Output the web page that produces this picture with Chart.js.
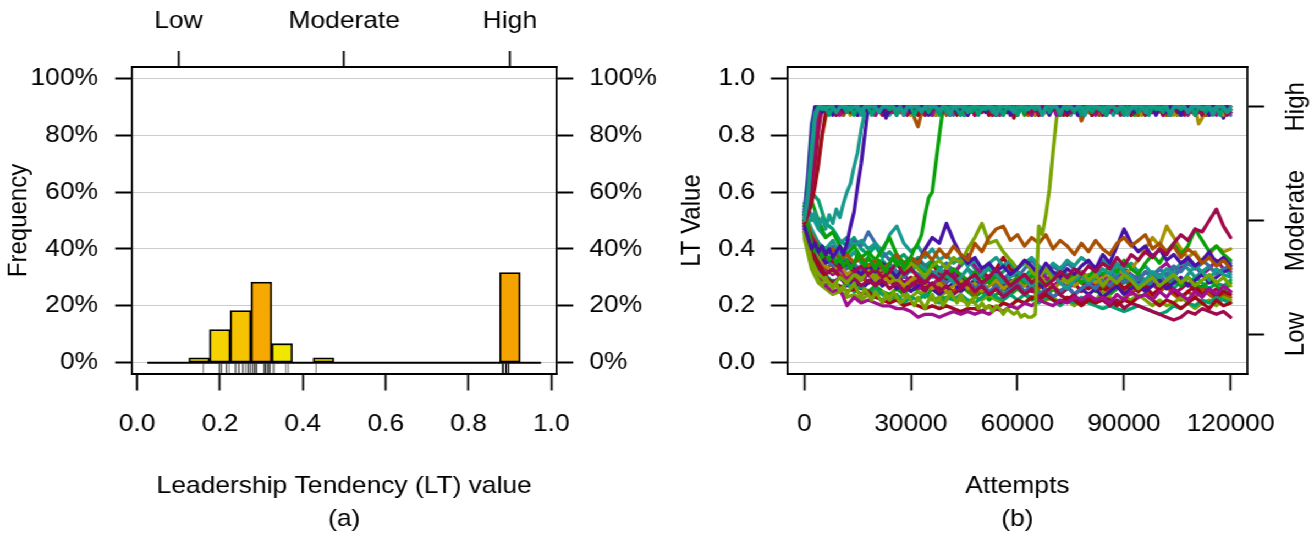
<!DOCTYPE html>
<html><head><meta charset="utf-8">
<script src="https://cdn.jsdelivr.net/npm/chart.js@4.4.1/dist/chart.umd.min.js"></script>
<style>
html,body{margin:0;padding:0;background:#fff;overflow:hidden;}
#wrap{position:absolute;left:0;top:0;width:1192px;height:535px;transform:scaleX(1.1);transform-origin:0 0;}
#c1{position:absolute;left:0;top:0;}
#c2{position:absolute;left:600px;top:0;}
</style></head><body>
<div id="wrap"><canvas id="c1" width="600" height="535"></canvas><canvas id="c2" width="592" height="535"></canvas></div>
<script>
// ---------------- DATA: panel (a) ----------------
const binCenters = [0.05,0.10,0.15,0.20,0.25,0.30,0.35,0.40,0.45,0.50,0.55,0.60,0.65,0.70,0.75,0.80,0.85,0.90,0.95];
const binWidth = 0.05;
const freqPct = [0,0,1.67,11.67,18.33,28.33,6.67,0,1.67,0,0,0,0,0,0,0,0,31.67,0];
const rugValues = [0.160,
  0.198,0.199,0.203,0.204,0.215,0.216,0.222,
  0.237,0.238,0.245,0.246,0.255,0.256,0.262,0.267,0.268,0.272,0.273,
  0.278,0.279,0.283,0.284,0.285,0.288,0.289,0.306,0.307,0.309,0.310,0.311,0.315,0.316,0.318,0.320,0.321,
  0.328,0.331,0.359,0.365,
  0.432,
  0.883,0.883,0.883,0.883,0.883,0.883,
  0.891,0.891,0.891,0.891,0.891,0.891,0.891,
  0.897,0.897,0.897,0.897,0.897,0.897];
const histXTicks = [0,0.2,0.4,0.6,0.8,1.0];
const histXTickLabels = ['0.0','0.2','0.4','0.6','0.8','1.0'];
const histYTicks = [0,20,40,60,80,100];
const histYTickLabels = ['0%','20%','40%','60%','80%','100%'];
const levelTicks = [0.1,0.5,0.9];
const levelLabels = ['Low','Moderate','High'];

// ---------------- DATA: panel (b) ----------------
const ltTicks = [0,0.2,0.4,0.6,0.8,1.0];
const ltTickLabels = ['0.0','0.2','0.4','0.6','0.8','1.0'];
const attemptTicks = [0,30000,60000,90000,120000];
const attemptTickLabels = ['0','30000','60000','90000','120000'];

const lowAttempts = [0,2000,4000,6000,8000,10000,12000,14000,16000,18000,
  20000,22000,24000,26000,28000,30000,32000,34000,36000,38000,
  40000,42000,44000,46000,48000,50000,52000,54000,56000,58000,
  60000,62000,64000,66000,68000,70000,72000,74000,76000,78000,
  80000,82000,84000,86000,88000,90000,92000,94000,96000,98000,
  100000,102000,104000,106000,108000,110000,112000,114000,116000,118000,120000];

const highAttempts = [0,1000,2000,3000,4000,5000,6000,7000,8000,9000,
  10000,11000,12000,13000,14000,15000,16000,17000,18000,19000,
  20000,21000,22000,23000,24000,25000,26000,27000,28000,29000,
  30000,31000,32000,33000,34000,35000,36000,37000,38000,39000,
  40000,41000,42000,43000,44000,45000,46000,47000,48000,49000,
  50000,51000,52000,53000,54000,55000,56000,57000,58000,59000,
  60000,61000,62000,63000,64000,65000,66000,67000,68000,69000,
  70000,71000,72000,73000,74000,75000,76000,77000,78000,79000,
  80000,81000,82000,83000,84000,85000,86000,87000,88000,89000,
  90000,91000,92000,93000,94000,95000,96000,97000,98000,99000,
  100000,101000,102000,103000,104000,105000,106000,107000,108000,109000,
  110000,111000,112000,113000,114000,115000,116000,117000,118000,119000,120000];

// agents that stay at low LT (sampled every 2000 attempts)
const low01 = [0.50,0.44,0.40,0.37,0.36,0.33,0.35,0.32,0.34,0.31, 0.33,0.30,0.32,0.35,0.31,0.33,0.30,0.28,0.31,0.29, 0.32,0.30,0.27,0.29,0.31,0.28,0.30,0.33,0.30,0.27, 0.29,0.31,0.28,0.30,0.27,0.29,0.32,0.30,0.33,0.31, 0.34,0.32,0.35,0.33,0.37,0.34,0.38,0.36,0.39,0.37, 0.40,0.38,0.42,0.45,0.43,0.47,0.46,0.50,0.54,0.48,0.44];
const low02 = [0.52,0.45,0.41,0.38,0.40,0.36,0.38,0.35,0.37,0.34, 0.36,0.33,0.35,0.38,0.34,0.37,0.35,0.39,0.36,0.40, 0.37,0.41,0.38,0.36,0.42,0.39,0.44,0.47,0.48,0.43, 0.45,0.41,0.44,0.42,0.45,0.40,0.43,0.41,0.38,0.42, 0.39,0.43,0.40,0.38,0.42,0.44,0.41,0.43,0.45,0.40, 0.42,0.39,0.41,0.37,0.40,0.38,0.35,0.37,0.34,0.36,0.33];
const low03 = [0.48,0.42,0.39,0.35,0.37,0.34,0.36,0.33,0.31,0.34, 0.32,0.35,0.33,0.30,0.34,0.37,0.35,0.40,0.44,0.42, 0.49,0.43,0.38,0.35,0.37,0.33,0.35,0.32,0.34,0.31, 0.33,0.36,0.34,0.31,0.35,0.32,0.30,0.33,0.31,0.34, 0.36,0.33,0.38,0.35,0.41,0.47,0.42,0.39,0.41,0.37, 0.40,0.36,0.38,0.35,0.37,0.34,0.36,0.39,0.35,0.37,0.34];
const low04 = [0.46,0.36,0.31,0.29,0.27,0.30,0.28,0.31,0.29,0.33, 0.30,0.34,0.31,0.29,0.32,0.35,0.33,0.30,0.34,0.36, 0.33,0.37,0.35,0.40,0.44,0.49,0.42,0.43,0.39,0.36, 0.33,0.36,0.32,0.30,0.33,0.29,0.31,0.28,0.30,0.32, 0.29,0.31,0.27,0.30,0.28,0.31,0.29,0.26,0.28,0.30, 0.27,0.29,0.31,0.28,0.30,0.27,0.29,0.31,0.28,0.30,0.27];
const low05 = [0.47,0.36,0.30,0.27,0.25,0.26,0.20,0.23,0.21,0.22, 0.21,0.20,0.20,0.19,0.19,0.18,0.16,0.17,0.17,0.16, 0.17,0.18,0.17,0.18,0.17,0.18,0.17,0.19,0.18,0.20, 0.19,0.21,0.20,0.22,0.21,0.20,0.22,0.21,0.23,0.22, 0.24,0.22,0.23,0.21,0.24,0.22,0.25,0.23,0.24,0.22, 0.25,0.23,0.26,0.24,0.22,0.25,0.23,0.26,0.24,0.27,0.25];
const low06 = [0.49,0.40,0.34,0.30,0.28,0.27,0.25,0.26,0.24,0.25, 0.23,0.22,0.21,0.22,0.20,0.21,0.20,0.19,0.20,0.19, 0.20,0.19,0.18,0.19,0.19,0.18,0.20,0.19,0.21,0.20, 0.22,0.21,0.23,0.22,0.24,0.22,0.21,0.23,0.22,0.20, 0.22,0.21,0.23,0.22,0.20,0.22,0.21,0.23,0.24,0.22, 0.20,0.22,0.21,0.19,0.21,0.23,0.21,0.19,0.22,0.20,0.21];
const low07 = [0.47,0.39,0.35,0.31,0.33,0.30,0.28,0.30,0.27,0.29, 0.27,0.29,0.26,0.28,0.25,0.27,0.29,0.26,0.28,0.25, 0.27,0.24,0.26,0.28,0.25,0.27,0.24,0.26,0.23,0.25, 0.27,0.24,0.26,0.23,0.25,0.27,0.24,0.22,0.24,0.21, 0.23,0.21,0.22,0.20,0.22,0.19,0.21,0.20,0.19,0.18, 0.17,0.16,0.15,0.16,0.18,0.17,0.19,0.18,0.17,0.18,0.16];
const low08 = [0.53,0.47,0.42,0.40,0.43,0.38,0.36,0.39,0.35,0.37, 0.34,0.36,0.33,0.31,0.34,0.32,0.35,0.33,0.30,0.33, 0.31,0.28,0.30,0.33,0.29,0.31,0.34,0.31,0.28,0.30, 0.32,0.29,0.27,0.30,0.33,0.31,0.28,0.26,0.29,0.31, 0.28,0.30,0.33,0.31,0.35,0.32,0.30,0.27,0.29,0.32, 0.30,0.33,0.31,0.28,0.31,0.34,0.32,0.29,0.33,0.31,0.30];
const low09 = [0.55,0.57,0.50,0.44,0.46,0.41,0.38,0.41,0.37,0.39, 0.36,0.40,0.44,0.38,0.35,0.37,0.34,0.32,0.35,0.33, 0.30,0.33,0.31,0.29,0.32,0.30,0.28,0.31,0.29,0.27, 0.30,0.28,0.31,0.29,0.27,0.30,0.32,0.29,0.31,0.28, 0.30,0.33,0.31,0.34,0.32,0.36,0.33,0.31,0.35,0.38, 0.35,0.39,0.42,0.38,0.41,0.47,0.43,0.39,0.41,0.38,0.36];
const low10 = [0.51,0.43,0.39,0.36,0.34,0.37,0.33,0.35,0.32,0.34, 0.31,0.33,0.35,0.32,0.30,0.33,0.31,0.29,0.32,0.30, 0.28,0.30,0.27,0.29,0.26,0.28,0.25,0.27,0.24,0.26, 0.28,0.25,0.27,0.24,0.26,0.23,0.25,0.27,0.24,0.26, 0.28,0.26,0.29,0.27,0.30,0.28,0.31,0.29,0.32,0.30, 0.33,0.31,0.34,0.32,0.35,0.33,0.36,0.34,0.31,0.33,0.34];
const low11 = [0.50,0.41,0.35,0.31,0.28,0.26,0.28,0.25,0.27,0.24, 0.26,0.24,0.22,0.24,0.21,0.23,0.22,0.24,0.23,0.21, 0.23,0.22,0.24,0.22,0.21,0.23,0.25,0.23,0.22,0.24, 0.22,0.24,0.23,0.21,0.23,0.22,0.20,0.22,0.21,0.23, 0.21,0.20,0.19,0.20,0.19,0.18,0.19,0.20,0.19,0.18, 0.17,0.18,0.20,0.19,0.21,0.20,0.22,0.21,0.23,0.22,0.21];
const low12 = [0.49,0.41,0.37,0.34,0.32,0.35,0.31,0.33,0.30,0.32, 0.29,0.31,0.28,0.30,0.27,0.29,0.31,0.28,0.26,0.28, 0.25,0.27,0.29,0.26,0.28,0.25,0.27,0.29,0.26,0.28, 0.30,0.27,0.29,0.31,0.28,0.26,0.28,0.30,0.27,0.29, 0.31,0.28,0.30,0.32,0.34,0.31,0.33,0.36,0.40,0.44, 0.41,0.48,0.44,0.40,0.37,0.39,0.35,0.38,0.41,0.39,0.40];
const low13 = [0.46,0.38,0.33,0.30,0.28,0.30,0.27,0.29,0.26,0.28, 0.30,0.27,0.29,0.26,0.28,0.25,0.27,0.29,0.26,0.24, 0.26,0.28,0.25,0.27,0.29,0.26,0.24,0.26,0.28,0.25, 0.27,0.24,0.26,0.28,0.25,0.23,0.25,0.27,0.24,0.26, 0.24,0.26,0.23,0.25,0.27,0.24,0.26,0.28,0.25,0.27, 0.29,0.26,0.28,0.30,0.27,0.29,0.31,0.28,0.30,0.32,0.33];
const low14 = [0.44,0.33,0.28,0.26,0.24,0.25,0.23,0.24,0.22,0.24, 0.23,0.25,0.23,0.22,0.24,0.23,0.25,0.24,0.22,0.23, 0.25,0.23,0.22,0.21,0.23,0.22,0.24,0.22,0.21,0.20, 0.22,0.21,0.23,0.24,0.22,0.23,0.21,0.22,0.20,0.22, 0.24,0.22,0.25,0.23,0.21,0.23,0.22,0.24,0.22,0.20, 0.22,0.20,0.21,0.23,0.21,0.19,0.21,0.22,0.20,0.23,0.22];
const low15 = [0.56,0.52,0.47,0.44,0.46,0.42,0.44,0.41,0.43,0.40, 0.42,0.39,0.45,0.48,0.42,0.39,0.41,0.37,0.40,0.36, 0.38,0.35,0.37,0.34,0.36,0.33,0.35,0.37,0.34,0.36, 0.33,0.35,0.37,0.34,0.32,0.35,0.33,0.36,0.34,0.37, 0.35,0.33,0.36,0.34,0.31,0.33,0.35,0.32,0.34,0.31, 0.33,0.30,0.32,0.35,0.33,0.30,0.32,0.34,0.31,0.33,0.31];
const low16 = [0.50,0.42,0.37,0.34,0.31,0.33,0.30,0.32,0.29,0.31, 0.28,0.30,0.32,0.29,0.31,0.28,0.26,0.29,0.27,0.30, 0.33,0.30,0.35,0.38,0.34,0.31,0.29,0.32,0.30,0.28, 0.30,0.27,0.29,0.32,0.30,0.27,0.29,0.26,0.28,0.30, 0.27,0.29,0.31,0.28,0.30,0.33,0.31,0.29,0.32,0.30, 0.33,0.35,0.32,0.34,0.37,0.34,0.31,0.33,0.36,0.33,0.32];
const low17 = [0.52,0.44,0.40,0.37,0.35,0.33,0.36,0.33,0.30,0.32, 0.35,0.31,0.29,0.32,0.30,0.33,0.36,0.32,0.35,0.31, 0.29,0.32,0.30,0.27,0.29,0.32,0.30,0.33,0.37,0.33, 0.31,0.28,0.30,0.27,0.29,0.31,0.28,0.30,0.27,0.29, 0.26,0.28,0.25,0.27,0.29,0.26,0.28,0.25,0.27,0.24, 0.26,0.28,0.25,0.23,0.25,0.27,0.24,0.26,0.23,0.25,0.24];
const low18 = [0.48,0.40,0.36,0.33,0.35,0.31,0.29,0.32,0.30,0.28, 0.30,0.33,0.30,0.28,0.26,0.28,0.31,0.28,0.26,0.29, 0.27,0.25,0.28,0.26,0.24,0.27,0.29,0.26,0.24,0.26, 0.28,0.31,0.28,0.26,0.29,0.27,0.25,0.27,0.30,0.28, 0.26,0.29,0.27,0.25,0.28,0.26,0.24,0.27,0.25,0.23, 0.25,0.27,0.24,0.22,0.25,0.23,0.26,0.24,0.22,0.24,0.23];
const low19 = [0.54,0.46,0.42,0.39,0.41,0.38,0.40,0.43,0.41,0.46, 0.42,0.39,0.36,0.38,0.35,0.33,0.36,0.34,0.31,0.33, 0.35,0.32,0.30,0.33,0.31,0.28,0.30,0.27,0.29,0.32, 0.30,0.33,0.36,0.33,0.31,0.34,0.32,0.35,0.33,0.31, 0.29,0.31,0.28,0.30,0.33,0.31,0.28,0.30,0.27,0.29, 0.31,0.28,0.30,0.33,0.36,0.33,0.35,0.38,0.35,0.37,0.35];
const low20 = [0.45,0.35,0.30,0.27,0.29,0.26,0.28,0.25,0.27,0.25, 0.27,0.25,0.24,0.26,0.24,0.27,0.25,0.23,0.26,0.24, 0.22,0.24,0.27,0.25,0.23,0.25,0.22,0.24,0.26,0.24, 0.26,0.24,0.22,0.25,0.23,0.26,0.24,0.22,0.24,0.26, 0.28,0.25,0.27,0.24,0.26,0.29,0.27,0.25,0.27,0.30, 0.28,0.26,0.29,0.27,0.30,0.28,0.26,0.29,0.27,0.25,0.28];
const low21 = [0.55,0.60,0.57,0.49,0.47,0.43,0.41,0.44,0.40,0.38, 0.41,0.37,0.39,0.36,0.38,0.35,0.37,0.34,0.36,0.33, 0.35,0.32,0.34,0.37,0.33,0.31,0.33,0.30,0.32,0.35, 0.32,0.30,0.33,0.31,0.28,0.30,0.33,0.31,0.29,0.32, 0.30,0.33,0.31,0.29,0.32,0.30,0.28,0.31,0.29,0.27, 0.30,0.28,0.26,0.29,0.27,0.30,0.28,0.26,0.28,0.27,0.29];
const low22 = [0.49,0.41,0.36,0.33,0.31,0.34,0.31,0.29,0.31,0.28, 0.30,0.27,0.29,0.31,0.28,0.30,0.27,0.25,0.28,0.26, 0.28,0.31,0.28,0.26,0.28,0.25,0.27,0.30,0.27,0.29, 0.26,0.28,0.25,0.27,0.29,0.26,0.24,0.26,0.28,0.25, 0.27,0.30,0.28,0.26,0.28,0.25,0.27,0.29,0.26,0.28, 0.25,0.27,0.24,0.26,0.28,0.25,0.27,0.24,0.26,0.23,0.25];

// agents that reach high LT (sampled every 1000 attempts)
const high01 = [0.50,0.58,0.72,0.86,0.90,0.90,0.89,0.90,0.90,0.88, 0.90,0.90,0.90,0.89,0.90,0.90,0.87,0.90,0.90,0.90, 0.90,0.88,0.90,0.90,0.90,0.90,0.89,0.90,0.87,0.90, 0.90,0.90,0.90,0.88,0.90,0.90,0.90,0.90,0.89,0.90, 0.90,0.87,0.90,0.90,0.90,0.90,0.88,0.90,0.90,0.90, 0.89,0.90,0.90,0.90,0.87,0.90,0.90,0.90,0.90,0.88, 0.90,0.90,0.90,0.89,0.90,0.90,0.90,0.87,0.90,0.90, 0.90,0.90,0.88,0.90,0.90,0.90,0.89,0.90,0.90,0.87, 0.90,0.90,0.90,0.90,0.88,0.90,0.90,0.90,0.89,0.90, 0.90,0.87,0.90,0.90,0.90,0.90,0.88,0.90,0.90,0.90, 0.89,0.90,0.90,0.87,0.90,0.90,0.90,0.90,0.88,0.90, 0.90,0.90,0.89,0.90,0.90,0.87,0.90,0.90,0.90,0.88, 0.90];
const high02 = [0.52,0.64,0.80,0.90,0.90,0.88,0.90,0.90,0.87,0.90, 0.90,0.89,0.90,0.90,0.90,0.87,0.90,0.90,0.88,0.90, 0.90,0.90,0.90,0.86,0.90,0.90,0.90,0.89,0.90,0.90, 0.88,0.90,0.90,0.90,0.90,0.87,0.90,0.90,0.90,0.89, 0.90,0.90,0.90,0.88,0.90,0.90,0.87,0.90,0.90,0.90, 0.90,0.88,0.90,0.90,0.90,0.89,0.90,0.90,0.87,0.90, 0.90,0.90,0.88,0.90,0.90,0.90,0.90,0.89,0.90,0.87, 0.90,0.90,0.90,0.90,0.88,0.90,0.90,0.87,0.90,0.90, 0.90,0.89,0.90,0.90,0.90,0.87,0.90,0.90,0.88,0.90, 0.90,0.90,0.90,0.88,0.90,0.90,0.90,0.89,0.90,0.87, 0.90,0.90,0.88,0.90,0.90,0.90,0.87,0.90,0.90,0.90, 0.89,0.90,0.90,0.90,0.87,0.90,0.90,0.88,0.90,0.90, 0.89];
const high03 = [0.50,0.55,0.63,0.74,0.86,0.90,0.90,0.88,0.90,0.90, 0.87,0.90,0.90,0.90,0.88,0.90,0.90,0.90,0.89,0.90, 0.87,0.90,0.90,0.90,0.90,0.88,0.90,0.90,0.87,0.90, 0.90,0.90,0.89,0.90,0.90,0.90,0.87,0.90,0.90,0.88, 0.90,0.90,0.90,0.90,0.88,0.90,0.90,0.90,0.87,0.90, 0.90,0.90,0.89,0.90,0.90,0.87,0.90,0.90,0.90,0.90, 0.88,0.90,0.90,0.90,0.87,0.90,0.90,0.89,0.90,0.90, 0.90,0.87,0.90,0.90,0.90,0.88,0.90,0.90,0.90,0.89, 0.90,0.90,0.87,0.90,0.90,0.90,0.88,0.90,0.90,0.90, 0.87,0.90,0.90,0.89,0.90,0.90,0.90,0.88,0.90,0.90, 0.90,0.87,0.90,0.90,0.90,0.89,0.90,0.90,0.87,0.90, 0.90,0.88,0.90,0.90,0.90,0.90,0.87,0.90,0.90,0.89, 0.88];
const high04 = [0.49,0.52,0.56,0.62,0.70,0.80,0.88,0.90,0.90,0.87, 0.90,0.90,0.90,0.88,0.90,0.90,0.89,0.90,0.90,0.90, 0.87,0.90,0.90,0.90,0.88,0.90,0.90,0.90,0.90,0.89, 0.90,0.90,0.87,0.90,0.90,0.90,0.88,0.90,0.90,0.90, 0.89,0.90,0.90,0.87,0.90,0.90,0.90,0.90,0.88,0.90, 0.90,0.90,0.87,0.90,0.90,0.89,0.90,0.90,0.90,0.86, 0.90,0.90,0.90,0.88,0.90,0.90,0.87,0.90,0.90,0.90, 0.89,0.90,0.90,0.90,0.87,0.90,0.90,0.88,0.90,0.90, 0.90,0.87,0.90,0.90,0.90,0.89,0.90,0.90,0.88,0.90, 0.90,0.90,0.87,0.90,0.90,0.90,0.88,0.90,0.90,0.89, 0.90,0.90,0.90,0.87,0.90,0.90,0.88,0.90,0.90,0.90, 0.87,0.90,0.90,0.89,0.90,0.90,0.90,0.88,0.90,0.90, 0.90];
const high05 = [0.50,0.53,0.58,0.64,0.72,0.80,0.86,0.90,0.90,0.90, 0.88,0.90,0.90,0.87,0.90,0.90,0.90,0.90,0.89,0.90, 0.90,0.90,0.87,0.90,0.90,0.88,0.90,0.90,0.90,0.90, 0.87,0.90,0.90,0.90,0.89,0.90,0.90,0.87,0.90,0.90, 0.90,0.88,0.90,0.90,0.90,0.90,0.87,0.90,0.90,0.89, 0.90,0.90,0.90,0.88,0.90,0.90,0.87,0.90,0.90,0.90, 0.90,0.89,0.90,0.90,0.90,0.87,0.90,0.90,0.88,0.90, 0.90,0.90,0.90,0.87,0.90,0.90,0.90,0.89,0.90,0.90, 0.88,0.90,0.90,0.90,0.87,0.90,0.90,0.90,0.90,0.88, 0.90,0.90,0.89,0.90,0.90,0.87,0.90,0.90,0.90,0.90, 0.88,0.90,0.90,0.90,0.87,0.90,0.90,0.89,0.90,0.90, 0.90,0.84,0.86,0.90,0.90,0.88,0.90,0.90,0.87,0.90, 0.89];
const high06 = [0.51,0.56,0.66,0.78,0.88,0.90,0.90,0.90,0.89,0.90, 0.90,0.87,0.90,0.90,0.90,0.88,0.90,0.90,0.90,0.90, 0.89,0.90,0.90,0.87,0.90,0.90,0.90,0.88,0.90,0.90, 0.90,0.86,0.83,0.88,0.90,0.90,0.90,0.89,0.90,0.90, 0.87,0.90,0.90,0.90,0.90,0.88,0.90,0.90,0.89,0.90, 0.90,0.90,0.87,0.90,0.90,0.90,0.88,0.90,0.90,0.90, 0.89,0.90,0.90,0.87,0.90,0.90,0.90,0.90,0.88,0.90, 0.90,0.90,0.87,0.90,0.90,0.89,0.90,0.90,0.85,0.88, 0.90,0.90,0.90,0.87,0.90,0.90,0.90,0.89,0.90,0.90, 0.88,0.90,0.90,0.90,0.87,0.90,0.90,0.90,0.90,0.89, 0.90,0.90,0.87,0.90,0.90,0.88,0.90,0.90,0.90,0.90, 0.89,0.90,0.90,0.87,0.90,0.90,0.90,0.88,0.90,0.90, 0.88];
const high07 = [0.52,0.55,0.50,0.53,0.48,0.51,0.47,0.52,0.49,0.54, 0.51,0.56,0.60,0.63,0.69,0.74,0.82,0.88,0.90,0.90, 0.90,0.89,0.90,0.90,0.87,0.90,0.90,0.90,0.90,0.88, 0.90,0.90,0.90,0.89,0.90,0.90,0.87,0.90,0.90,0.90, 0.90,0.88,0.90,0.90,0.90,0.87,0.90,0.90,0.90,0.89, 0.90,0.90,0.90,0.87,0.90,0.90,0.88,0.90,0.90,0.90, 0.90,0.89,0.90,0.90,0.87,0.90,0.90,0.90,0.88,0.90, 0.90,0.90,0.89,0.90,0.90,0.87,0.90,0.90,0.90,0.90, 0.88,0.90,0.90,0.90,0.89,0.90,0.90,0.87,0.90,0.90, 0.90,0.90,0.88,0.90,0.90,0.90,0.87,0.90,0.90,0.89, 0.90,0.90,0.90,0.88,0.90,0.90,0.87,0.90,0.90,0.90, 0.90,0.89,0.90,0.90,0.87,0.90,0.90,0.90,0.88,0.90, 0.89];
const high08 = [0.48,0.44,0.40,0.42,0.39,0.41,0.38,0.40,0.37,0.39, 0.41,0.38,0.42,0.48,0.53,0.62,0.70,0.80,0.90,0.90, 0.90,0.90,0.88,0.90,0.90,0.90,0.87,0.90,0.90,0.90, 0.89,0.90,0.90,0.90,0.88,0.90,0.90,0.87,0.90,0.90, 0.90,0.90,0.89,0.90,0.90,0.87,0.90,0.90,0.90,0.88, 0.90,0.90,0.90,0.90,0.87,0.90,0.90,0.89,0.90,0.90, 0.88,0.90,0.90,0.90,0.87,0.90,0.90,0.90,0.90,0.89, 0.90,0.90,0.87,0.90,0.90,0.90,0.88,0.90,0.90,0.90, 0.90,0.87,0.90,0.90,0.89,0.90,0.90,0.90,0.88,0.90, 0.90,0.90,0.87,0.90,0.90,0.90,0.89,0.90,0.90,0.88, 0.90,0.90,0.90,0.87,0.90,0.90,0.90,0.88,0.90,0.90, 0.89,0.90,0.90,0.87,0.90,0.90,0.90,0.90,0.86,0.90, 0.88];
const high09 = [0.53,0.47,0.42,0.39,0.41,0.37,0.39,0.36,0.38,0.35, 0.37,0.34,0.36,0.33,0.35,0.38,0.36,0.34,0.37,0.35, 0.33,0.36,0.34,0.32,0.35,0.37,0.34,0.36,0.33,0.35, 0.37,0.40,0.42,0.45,0.52,0.58,0.60,0.70,0.80,0.89, 0.90,0.90,0.90,0.88,0.90,0.90,0.87,0.90,0.90,0.90, 0.89,0.90,0.90,0.90,0.87,0.90,0.90,0.88,0.90,0.90, 0.90,0.90,0.87,0.90,0.90,0.90,0.89,0.90,0.90,0.88, 0.90,0.90,0.90,0.90,0.87,0.90,0.90,0.89,0.90,0.90, 0.90,0.87,0.90,0.90,0.90,0.88,0.90,0.90,0.90,0.90, 0.89,0.90,0.90,0.87,0.90,0.90,0.90,0.88,0.90,0.90, 0.90,0.90,0.87,0.90,0.90,0.89,0.90,0.90,0.90,0.88, 0.90,0.90,0.90,0.87,0.90,0.90,0.88,0.90,0.90,0.90, 0.89];
const high10 = [0.46,0.40,0.35,0.31,0.29,0.27,0.30,0.28,0.26,0.28, 0.25,0.27,0.24,0.26,0.28,0.25,0.23,0.26,0.24,0.22, 0.25,0.23,0.21,0.24,0.22,0.25,0.23,0.21,0.22,0.24, 0.22,0.20,0.23,0.21,0.19,0.22,0.24,0.21,0.23,0.20, 0.22,0.25,0.23,0.21,0.24,0.22,0.20,0.22,0.21,0.19, 0.21,0.19,0.20,0.18,0.20,0.19,0.17,0.19,0.18,0.17, 0.18,0.16,0.17,0.16,0.16,0.17,0.48,0.45,0.52,0.61, 0.74,0.86,0.90,0.90,0.88,0.90,0.90,0.90,0.87,0.90, 0.90,0.90,0.89,0.90,0.90,0.87,0.90,0.90,0.90,0.88, 0.90,0.90,0.90,0.90,0.87,0.90,0.90,0.89,0.90,0.90, 0.90,0.88,0.90,0.90,0.90,0.87,0.90,0.90,0.90,0.89, 0.90,0.90,0.87,0.90,0.90,0.90,0.88,0.90,0.90,0.90, 0.88];
const high11 = [0.53,0.66,0.84,0.90,0.90,0.90,0.88,0.90,0.90,0.90, 0.90,0.87,0.90,0.90,0.89,0.90,0.90,0.90,0.88,0.90, 0.90,0.90,0.90,0.87,0.90,0.90,0.89,0.90,0.90,0.90, 0.88,0.90,0.90,0.90,0.87,0.90,0.90,0.90,0.90,0.89, 0.90,0.90,0.87,0.90,0.90,0.90,0.88,0.90,0.90,0.90, 0.90,0.89,0.90,0.90,0.90,0.87,0.90,0.90,0.88,0.90, 0.90,0.90,0.90,0.89,0.90,0.87,0.90,0.90,0.90,0.88, 0.90,0.90,0.87,0.90,0.90,0.90,0.89,0.90,0.90,0.88, 0.90,0.90,0.90,0.87,0.90,0.90,0.88,0.90,0.90,0.90, 0.89,0.90,0.90,0.90,0.87,0.90,0.90,0.90,0.88,0.90, 0.90,0.90,0.89,0.90,0.90,0.87,0.90,0.90,0.90,0.88, 0.90,0.90,0.90,0.87,0.90,0.89,0.90,0.90,0.87,0.90, 0.87];
const high12 = [0.51,0.60,0.76,0.88,0.90,0.89,0.90,0.87,0.90,0.88, 0.90,0.90,0.88,0.90,0.87,0.90,0.89,0.90,0.90,0.87, 0.90,0.88,0.90,0.90,0.89,0.90,0.87,0.90,0.88,0.90, 0.90,0.87,0.90,0.89,0.90,0.88,0.90,0.90,0.87,0.90, 0.88,0.90,0.90,0.89,0.87,0.90,0.90,0.88,0.90,0.87, 0.90,0.89,0.90,0.88,0.90,0.90,0.87,0.90,0.89,0.90, 0.87,0.90,0.88,0.90,0.90,0.89,0.90,0.87,0.90,0.88, 0.90,0.90,0.87,0.90,0.89,0.90,0.88,0.90,0.87,0.90, 0.90,0.88,0.90,0.89,0.90,0.87,0.90,0.90,0.88,0.90, 0.87,0.90,0.89,0.90,0.88,0.90,0.90,0.87,0.90,0.89, 0.90,0.88,0.90,0.87,0.90,0.90,0.89,0.90,0.88,0.90, 0.87,0.90,0.90,0.88,0.90,0.89,0.90,0.87,0.90,0.88, 0.89];
const high13 = [0.50,0.54,0.61,0.70,0.82,0.90,0.88,0.90,0.90,0.87, 0.90,0.88,0.90,0.89,0.90,0.87,0.90,0.90,0.88,0.90, 0.89,0.90,0.87,0.90,0.88,0.90,0.90,0.89,0.90,0.87, 0.90,0.88,0.90,0.90,0.87,0.90,0.89,0.90,0.88,0.90, 0.90,0.87,0.90,0.88,0.90,0.90,0.89,0.90,0.87,0.90, 0.88,0.90,0.90,0.87,0.90,0.89,0.90,0.88,0.90,0.90, 0.87,0.90,0.89,0.90,0.88,0.90,0.87,0.90,0.90,0.88, 0.90,0.89,0.90,0.87,0.90,0.88,0.90,0.90,0.87,0.90, 0.89,0.90,0.88,0.90,0.87,0.90,0.90,0.89,0.90,0.87, 0.90,0.88,0.90,0.90,0.89,0.90,0.87,0.90,0.88,0.90, 0.90,0.87,0.90,0.89,0.90,0.88,0.90,0.87,0.90,0.90, 0.88,0.90,0.87,0.90,0.89,0.90,0.90,0.88,0.90,0.87, 0.90];

// ---------------- STYLE ----------------
const INDIGO='#4612A6', STEEL='#3A6CA6', TEAL='#17998C', GREEN='#07A007', YGREEN='#78A300',
      OLIVE='#A69100', ORANGE='#A84F00', DRED='#A0091A', CRIMSON='#9E0A4B', MAGENTA='#A0108D', SEA='#00A06F';
const lowSeries = [low01,low02,low03,low04,low05,low06,low07,low08,low09,low10,low11,low12,low13,low14,low15,low16,low17,low18,low19,low20,low21,low22];
const lowColors = [CRIMSON,ORANGE,INDIGO,YGREEN,MAGENTA,DRED,CRIMSON,TEAL,GREEN,STEEL,SEA,OLIVE,INDIGO,YGREEN,TEAL,MAGENTA,DRED,ORANGE,STEEL,GREEN,SEA,CRIMSON];
const highSeries = [high01,high12,high02,high13,high03,high04,high05,high06,high07,high08,high09,high10,high11];
const highColors = [TEAL,SEA,INDIGO,CRIMSON,MAGENTA,DRED,OLIVE,ORANGE,TEAL,INDIGO,GREEN,YGREEN,STEEL];
const binColors = ['#F2E400','#F2E400','#F1DE00','#F5D200','#F6C300','#F6A900','#F1E600','#F2E400','#F1DE00',
  '#F2E400','#F2E400','#F2E400','#F2E400','#F2E400','#F2E400','#F2E400','#F2E400','#F5A300','#F2E400'];
const RUG_LEVEL = -2.1;
const FS = 24;

Chart.defaults.font.family = "'Liberation Sans', Arial, Helvetica, sans-serif";
Chart.defaults.font.size = FS;
Chart.defaults.color = '#000';

const fixSize = (n) => (s) => { if (s.isHorizontal()) s.height = n; else s.width = n; };
const setTicks = (vals) => (s) => { s.ticks = vals.map(v => ({ value: v })); };
const GRID = '#cccccc';
const common = {
  responsive: false, animation: false, events: [],
  layout: { padding: 0 },
  plugins: { legend: { display: false }, tooltip: { enabled: false } }
};

// ---------------- PANEL (a) ----------------
const hxMin = -0.013, hxMax = 1.013, hyMin = -4, hyMax = 104;
new Chart(document.getElementById('c1'), {
  type: 'bar',
  data: { datasets: [
    { type: 'scatter', data: rugValues.map(v => ({ x: v, y: RUG_LEVEL })), pointStyle: 'line', pointRotation: 90,
      pointRadius: 5, pointBorderWidth: 1, pointBorderColor: 'rgba(0,0,0,0.55)', pointBackgroundColor: 'rgba(0,0,0,0)' },
    { type: 'line', data: [{ x: binCenters[0] - binWidth / 2, y: 0 }, { x: binCenters[binCenters.length - 1] + binWidth / 2, y: 0 }],
      borderColor: '#000', borderWidth: 2, pointRadius: 0 },
    { type: 'bar', data: binCenters.map((c, i) => ({ x: c, y: freqPct[i] })), backgroundColor: binColors,
      borderColor: '#000', borderWidth: 1.8, borderSkipped: false, barPercentage: 1, categoryPercentage: 1 }
  ]},
  options: Object.assign({}, common, {
    scales: {
      x: { type: 'linear', position: 'bottom', min: hxMin, max: hxMax, offset: false,
        afterFit: fixSize(161), afterBuildTicks: setTicks(histXTicks),
        ticks: { autoSkip: false, maxRotation: 0, padding: 19.1, callback: (v, i) => histXTickLabels[i] },
        grid: { display: true, offset: false, drawOnChartArea: false, tickLength: 16.5, tickColor: '#000', tickWidth: 1.8 },
        border: { display: true, color: '#000', width: 2 },
        title: { display: true, text: ['Leadership Tendency (LT) value', '(a)'], font: { size: FS, lineHeight: 1.375 }, padding: { top: 0, bottom: -1.1 } } },
      x2: { type: 'linear', position: 'top', min: hxMin, max: hxMax, offset: false,
        afterFit: fixSize(67), afterBuildTicks: setTicks(levelTicks),
        ticks: { autoSkip: false, maxRotation: 0, padding: 15.6, callback: (v, i) => levelLabels[i] },
        grid: { display: true, offset: false, drawOnChartArea: false, tickLength: 16, tickColor: '#000', tickWidth: 1.8 },
        border: { display: true, color: '#000', width: 2 } },
      y: { type: 'linear', position: 'left', min: hyMin, max: hyMax,
        afterFit: fixSize(119.7), afterBuildTicks: setTicks(histYTicks),
        ticks: { autoSkip: false, padding: 15.6, callback: (v, i) => histYTickLabels[i] },
        grid: { display: true, drawOnChartArea: true, color: GRID, lineWidth: 1, tickLength: 15, tickColor: '#000', tickWidth: 2 },
        border: { display: true, color: '#000', width: 1.8 },
        title: { display: true, text: 'Frequency', font: { size: FS }, padding: { top: 3.1, bottom: 0 } } },
      y2: { type: 'linear', position: 'right', min: hyMin, max: hyMax,
        afterFit: fixSize(93.9), afterBuildTicks: setTicks(histYTicks),
        ticks: { autoSkip: false, padding: 14.6, callback: (v, i) => histYTickLabels[i] },
        grid: { display: true, drawOnChartArea: false, tickLength: 15, tickColor: '#000', tickWidth: 2 },
        border: { display: true, color: '#000', width: 1.8 } }
    }
  })
});

// ---------------- PANEL (b) ----------------
const axMin = -4800, axMax = 124800, lyMin = -0.04, lyMax = 1.04;
const lineDatasets = [
  ...highSeries.map((s, k) => ({ data: s.map((v, i) => ({ x: highAttempts[i], y: v })), borderColor: highColors[k] })),
  ...lowSeries.map((s, k) => ({ data: s.map((v, i) => ({ x: lowAttempts[i], y: v })), borderColor: lowColors[k] }))
];
new Chart(document.getElementById('c2'), {
  type: 'line',
  data: { datasets: lineDatasets },
  options: Object.assign({}, common, {
    elements: { point: { radius: 0, hitRadius: 0 }, line: { tension: 0, borderWidth: 3.3, borderJoinStyle: 'round', borderCapStyle: 'round', fill: false } },
    scales: {
      x: { type: 'linear', position: 'bottom', min: axMin, max: axMax, offset: false,
        afterFit: fixSize(161), afterBuildTicks: setTicks(attemptTicks),
        ticks: { autoSkip: false, maxRotation: 0, padding: 19.1, callback: (v, i) => attemptTickLabels[i] },
        grid: { display: true, offset: false, drawOnChartArea: false, tickLength: 16.5, tickColor: '#000', tickWidth: 1.8 },
        border: { display: true, color: '#000', width: 2 },
        title: { display: true, text: ['Attempts', '(b)'], font: { size: FS, lineHeight: 1.375 }, padding: { top: 0, bottom: -1.1 } } },
      x2: { type: 'linear', position: 'top', min: axMin, max: axMax, offset: false,
        afterFit: fixSize(67),
        ticks: { display: false },
        grid: { display: false },
        border: { display: true, color: '#000', width: 2 } },
      y: { type: 'linear', position: 'left', min: lyMin, max: lyMax,
        afterFit: fixSize(115.7), afterBuildTicks: setTicks(ltTicks),
        ticks: { autoSkip: false, padding: 14.3, callback: (v, i) => ltTickLabels[i] },
        grid: { display: true, drawOnChartArea: true, color: GRID, lineWidth: 1, tickLength: 15, tickColor: '#000', tickWidth: 2 },
        border: { display: true, color: '#000', width: 1.8 },
        title: { display: true, text: 'LT Value', font: { size: FS }, padding: { top: 15.2, bottom: 0 } } },
      y2: { type: 'linear', position: 'right', min: lyMin, max: lyMax,
        afterFit: fixSize(57.8), afterBuildTicks: setTicks(levelTicks),
        ticks: { autoSkip: false, minRotation: 90, maxRotation: 90, crossAlign: 'center', padding: -21.5, callback: (v, i) => levelLabels[i] },
        grid: { display: true, drawOnChartArea: false, tickLength: 15, tickColor: '#000', tickWidth: 2 },
        border: { display: true, color: '#000', width: 1.8 } }
    }
  })
});
</script>
</body></html>
